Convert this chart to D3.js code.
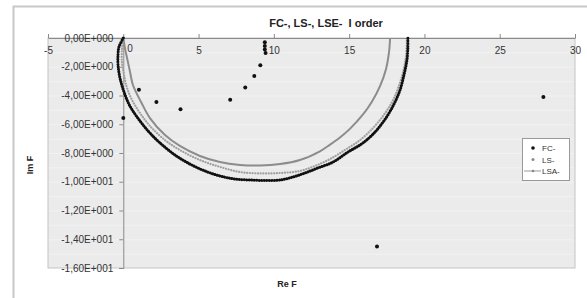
<!DOCTYPE html>
<html>
<head>
<meta charset="utf-8">
<script src="https://cdn.jsdelivr.net/npm/d3@7"></script>
<style>
	body{margin:0;background:#fff;}
	svg{display:block;font-family:"Liberation Sans",Arial,sans-serif;}
</style>
</head>
<body>
<div id="chart"></div>
<script>

// FC- : dense arc + scattered points (Re F, Im F)
const fcArc = [
	[0,0],[-0.29,-0.63],[-0.35,-1.18],[-0.35,-1.88],[-0.22,-2.78],[0.05,-3.76],[0.44,-4.73],
	[1.11,-5.77],[1.77,-6.61],[2.44,-7.30],[3.43,-8.14],[4.43,-8.77],[5.42,-9.25],[6.42,-9.60],
	[7.42,-9.81],[8.41,-9.88],[9.41,-9.91],[10.41,-9.88],[11.27,-9.67],[12.07,-9.39],[12.93,-9.04],
	[13.93,-8.63],[14.93,-7.93],[15.92,-7.30],[16.72,-6.54],[17.44,-5.57],[17.98,-4.59],
	[18.38,-3.62],[18.64,-2.57],[18.84,-1.53],[18.90,-0.70],[18.90,0]
]
const fcScatter = [
	[0.0,-5.57],[1.04,-3.6],[2.2,-4.45],[3.8,-4.95],[7.1,-4.3],[8.1,-3.45],[8.7,-2.65],
	[9.1,-1.9],[9.45,-1.05],[9.4,-0.8],[9.4,-0.55],[9.4,-0.3],[27.9,-4.1],[16.85,-14.5]
]
// LS- : middle arc
const lsArc = [
	[0,0],[-0.09,-0.83],[-0.09,-1.67],[0.05,-2.57],[0.25,-3.48],[0.58,-4.31],[1.11,-5.22],
	[1.77,-6.12],[2.77,-7.10],[3.76,-7.79],[5.09,-8.49],[6.42,-8.97],[7.75,-9.32],[9.08,-9.42],
	[10.41,-9.39],[11.73,-9.25],[12.73,-8.90],[13.73,-8.42],[14.72,-7.79],[15.72,-7.10],
	[16.52,-6.33],[17.25,-5.43],[17.85,-4.45],[18.25,-3.48],[18.58,-2.37],[18.78,-1.18],[18.84,0]
]
// LSA- : inner arc (line)
const lsaArc = [
	[0,0],[0.11,-0.70],[0.25,-1.39],[0.45,-2.37],[0.64,-3.27],[1.18,-4.45],[1.77,-5.57],
	[2.77,-6.75],[3.76,-7.51],[5.09,-8.21],[6.42,-8.63],[7.75,-8.83],[9.08,-8.87],[10.41,-8.77],
	[11.73,-8.49],[13.06,-7.88],[13.73,-7.42],[14.39,-6.92],[15.05,-6.32],[15.92,-5.32],
	[16.52,-4.42],[17.05,-3.35],[17.45,-2.15],[17.65,-0.97],[17.72,0]
]

const xTicks = [-5,0,5,10,15,20,25,30]
const yTicks = [0,-2,-4,-6,-8,-10,-12,-14,-16]
const legendNames = ["FC-","LS-","LSA-"]

const W = 587, H = 298
const svg = d3.select("#chart").append("svg").attr("width",W).attr("height",H)

// chart frame
svg.append("rect").attr("x",13.5).attr("y",6.5).attr("width",W).attr("height",H)
	.attr("fill","#fff").attr("stroke","#c8c8c8").attr("stroke-width",2)

const x = d3.scaleLinear().domain([-5,30]).range([48,575])
const y = d3.scaleLinear().domain([-16,0]).range([268,38])

// plot area
svg.append("rect").attr("x",x(-5)).attr("y",y(0)).attr("width",x(30)-x(-5)).attr("height",y(-16)-y(0))
	.attr("fill","#ebebeb").attr("stroke","#c4c4c4")

svg.append("g").selectAll("line").data(d3.range(-15,0,1)).enter().append("line")
	.attr("x1",x(-5)+1).attr("x2",x(30)-1).attr("y1",d=>y(d)+0.5).attr("y2",d=>y(d)+0.5)
	.attr("stroke","#f2f2f2").attr("stroke-width",1)

const fmtE = d=>{
	if (d===0) return "0,00E+000"
	const e = Math.floor(Math.log10(Math.abs(d)))
	const m = (d/Math.pow(10,e)).toFixed(2).replace(".",",")
	return m+"E"+(e<0?"-":"+")+String(Math.abs(e)).padStart(3,"0")
}

// x axis at Im=0
const xAxis = svg.append("g").attr("transform","translate(0,"+y(0)+")")
	.call(d3.axisBottom(x).tickValues(xTicks).tickSize(0).tickPadding(9).tickFormat(d=>d===0?"":d))
xAxis.select(".domain").attr("stroke","#8a8a8a")
xAxis.selectAll("text").attr("font-size",10).attr("fill","#333")
svg.append("g").selectAll("line").data(xTicks).enter().append("line")
	.attr("x1",d=>x(d)+0.5).attr("x2",d=>x(d)+0.5).attr("y1",y(0)-4).attr("y2",y(0))
	.attr("stroke","#8a8a8a")
svg.append("text").attr("x",x(0)+4).attr("y",y(0)+14).attr("font-size",10).attr("fill","#333").text("0")

// y axis at Re=0
const yAxis = svg.append("g").attr("transform","translate("+x(0)+",0)")
	.call(d3.axisLeft(y).tickValues(yTicks).tickSize(4).tickPadding(6).tickFormat(fmtE))
yAxis.selectAll("path,line").attr("stroke","#8a8a8a")
yAxis.selectAll("text").attr("font-size",10).attr("fill","#333")

// title and axis titles
svg.append("text").attr("x",326).attr("y",27).attr("text-anchor","middle")
	.attr("font-size",11).attr("font-weight","bold").attr("fill","#222").text("FC-, LS-, LSE-\u00a0 I order")
svg.append("text").attr("transform","translate(33,165) rotate(-90)").attr("text-anchor","middle")
	.attr("font-size",9).attr("font-weight","bold").attr("fill","#222").text("Im F")
svg.append("text").attr("x",287).attr("y",287).attr("text-anchor","middle")
	.attr("font-size",9).attr("font-weight","bold").attr("fill","#222").text("Re F")

const curve = d3.line().x(d=>x(d[0])).y(d=>y(d[1])).curve(d3.curveCatmullRom)

// LSA- line
svg.append("path").datum(lsaArc).attr("d",curve).attr("fill","none")
	.attr("stroke","#8c8c8c").attr("stroke-width",2)
// LS- dotted markers
svg.append("path").datum(lsArc).attr("d",curve).attr("fill","none")
	.attr("stroke","#a0a0a0").attr("stroke-width",2.2).attr("stroke-linecap","round")
	.attr("stroke-dasharray","0.1,2.6")
// FC- dense markers
svg.append("path").datum(fcArc).attr("d",curve).attr("fill","none")
	.attr("stroke","#111").attr("stroke-width",3).attr("stroke-linecap","round")
	.attr("stroke-dasharray","0.1,2.4")
svg.append("g").selectAll("circle").data(fcScatter).enter().append("circle")
	.attr("cx",d=>x(d[0])).attr("cy",d=>y(d[1])).attr("r",2).attr("fill","#111")

// legend
const lg = svg.append("g").attr("transform","translate(522,138)")
lg.append("rect").attr("x",0.5).attr("y",0.5).attr("width",47).attr("height",42)
	.attr("fill","#fff").attr("stroke","#999")
lg.selectAll("text").data(legendNames).enter().append("text")
	.attr("x",20).attr("y",(d,i)=>13+i*11.5).attr("font-size",8).attr("fill","#333").text(d=>d)
lg.append("circle").attr("cx",11).attr("cy",10).attr("r",1.8).attr("fill","#111")
lg.append("circle").attr("cx",11).attr("cy",21.5).attr("r",1.5).attr("fill","#888")
lg.append("line").attr("x1",2).attr("x2",19).attr("y1",33).attr("y2",33).attr("stroke","#999").attr("stroke-width",1)
lg.append("circle").attr("cx",11).attr("cy",33).attr("r",1.3).attr("fill","#888")

</script>
</body>
</html>
